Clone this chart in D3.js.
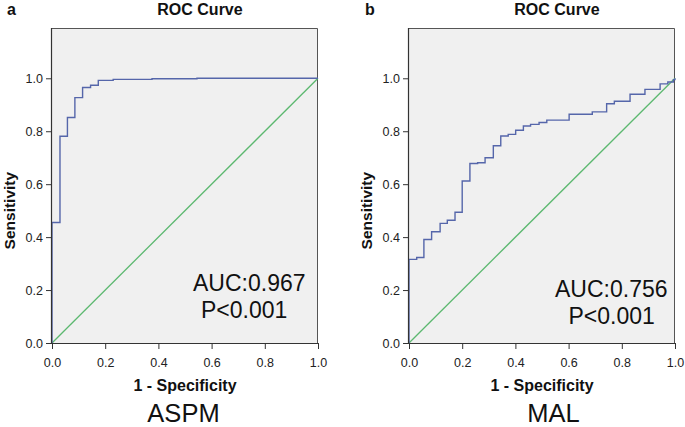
<!DOCTYPE html>
<html>
<head>
<meta charset="utf-8">
<script src="https://cdn.jsdelivr.net/npm/d3@7"></script>
<style>
  html, body { margin: 0; padding: 0; background: #fff; }
  svg { display: block; font-family: "Liberation Sans", Arial, sans-serif; }
</style>
</head>
<body>
<svg id="chart" width="685" height="427"></svg>
<script>
// ---- Data ----
const xTicks = [0, 0.2, 0.4, 0.6, 0.8, 1.0];
const yTicks = [0, 0.2, 0.4, 0.6, 0.8, 1.0];

const aspmFpr = [0, 0, 0.030, 0.058, 0.086, 0.115, 0.145, 0.174, 0.230, 0.376, 0.545, 1.0];
const aspmTpr = [0, 0.455, 0.781, 0.852, 0.927, 0.965, 0.974, 0.992, 0.996, 0.998, 1.0, 1.0];

const malFpr = [0, 0, 0.029, 0.056, 0.085, 0.117, 0.144, 0.173, 0.200, 0.229, 0.258, 0.286, 0.317, 0.345, 0.373, 0.401, 0.430, 0.457, 0.489, 0.518, 0.602, 0.689, 0.743, 0.772, 0.831, 0.887, 0.944, 0.973, 0.994, 1.0];
const malTpr = [0, 0.316, 0.323, 0.391, 0.420, 0.452, 0.464, 0.494, 0.612, 0.678, 0.681, 0.700, 0.745, 0.782, 0.788, 0.804, 0.820, 0.826, 0.833, 0.842, 0.864, 0.873, 0.904, 0.913, 0.940, 0.958, 0.979, 0.986, 0.995, 1.0];

const panels = [
  { letter: "a", name: "ASPM", auc: "AUC:0.967", p: "P<0.001", fpr: aspmFpr, tpr: aspmTpr,
    left: 52, right: 318, aucX: 193, pX: 201, aucY: 290.5, pY: 317.5, nameX: 183.5, letterX: 7, ylabX: 14.5 },
  { letter: "b", name: "MAL", auc: "AUC:0.756", p: "P<0.001", fpr: malFpr, tpr: malTpr,
    left: 409, right: 675, aucX: 555, pX: 568.5, aucY: 296.5, pY: 324, nameX: 553.5, letterX: 365, ylabX: 371.5 }
];

const svg = d3.select("#chart");
const plotTop = 28, plotBottom = 343;

panels.forEach(pn => {
  const g = svg.append("g");
  const x = d3.scaleLinear().domain([0, 1]).range([pn.left, pn.right]);
  const y = d3.scaleLinear().domain([0, 1.19]).range([plotBottom, plotTop]);

  // background
  g.append("rect")
    .attr("x", pn.left).attr("y", plotTop)
    .attr("width", pn.right - pn.left).attr("height", plotBottom - plotTop)
    .attr("fill", "#f0f0f0");

  // frame top & right
  g.append("path")
    .attr("d", `M${pn.left},${plotTop + 0.5}H${pn.right - 0.5}V${plotBottom}`)
    .attr("fill", "none").attr("stroke", "#555").attr("stroke-width", 1);

  // diagonal reference line
  g.append("line")
    .attr("x1", x(0)).attr("y1", y(0)).attr("x2", x(1)).attr("y2", y(1))
    .attr("stroke", "#5cb870").attr("stroke-width", 1.3);

  // ROC curve
  const pts = pn.fpr.map((f, i) => [f, pn.tpr[i]]);
  g.append("path")
    .datum(pts)
    .attr("d", d3.line().x(d => x(d[0])).y(d => y(d[1])).curve(d3.curveStepAfter))
    .attr("fill", "none").attr("stroke", "#5566aa").attr("stroke-width", 1.4);

  // axes
  const xAxis = g.append("g").attr("transform", `translate(0,${plotBottom})`)
    .call(d3.axisBottom(x).tickValues(xTicks).tickFormat(d3.format(".1f")).tickSize(6).tickSizeOuter(0));
  const yAxis = g.append("g").attr("transform", `translate(${pn.left},0)`)
    .call(d3.axisLeft(y).tickValues(yTicks).tickFormat(d3.format(".1f")).tickSize(6).tickSizeOuter(0));
  [xAxis, yAxis].forEach(a => {
    a.select(".domain").attr("stroke", "#333").attr("stroke-width", 1.2);
    a.selectAll(".tick line").attr("stroke", "#333");
    a.selectAll(".tick text").attr("fill", "#222").style("font-size", "12.5px")
      .style("font-family", "'Liberation Sans', Arial, sans-serif");
  });
  yAxis.select(".domain").attr("d", `M-0.5,${plotTop}V${plotBottom}`);
  xAxis.selectAll(".tick text").attr("dy", null).attr("y", 23.5);
  yAxis.selectAll(".tick text").attr("x", -9).attr("dy", "0.36em");

  // title
  const cx = (pn.left + pn.right) / 2;
  g.append("text").attr("x", cx + 15).attr("y", 14.5).attr("text-anchor", "middle")
    .style("font-size", "16px").style("font-weight", "bold").attr("fill", "#111").text("ROC Curve");
  // panel letter
  g.append("text").attr("x", pn.letterX).attr("y", 14.5)
    .style("font-size", "16px").style("font-weight", "bold").attr("fill", "#111").text(pn.letter);
  // x label
  g.append("text").attr("x", cx).attr("y", 391).attr("text-anchor", "middle")
    .style("font-size", "16px").style("font-weight", "bold").attr("fill", "#111").text("1 - Specificity");
  // y label
  g.append("text").attr("transform", `translate(${pn.ylabX},${y(0.5)}) rotate(-90)`)
    .attr("text-anchor", "middle")
    .style("font-size", "15.5px").style("font-weight", "bold").attr("fill", "#111").text("Sensitivity");
  // AUC annotations
  g.append("text").attr("x", pn.aucX).attr("y", pn.aucY)
    .style("font-size", "23px").attr("fill", "#111").text(pn.auc);
  g.append("text").attr("x", pn.pX).attr("y", pn.pY)
    .style("font-size", "23px").attr("fill", "#111").text(pn.p);
  // marker name
  g.append("text").attr("x", pn.nameX).attr("y", 421.5).attr("text-anchor", "middle")
    .style("font-size", "25.5px").attr("fill", "#111").text(pn.name);
});
</script>
</body>
</html>
